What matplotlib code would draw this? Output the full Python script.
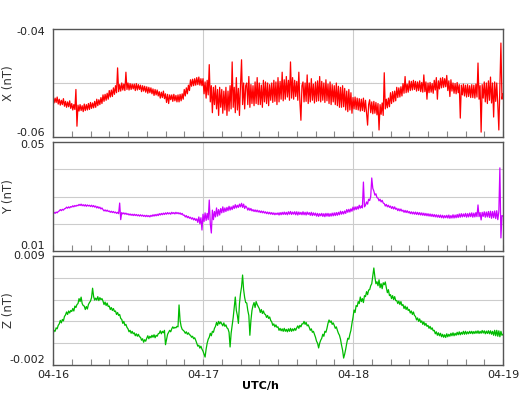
import numpy as np
import matplotlib
matplotlib.use("Agg")
import matplotlib.pyplot as plt
import matplotlib.transforms as mtransforms

X_SCALE = 1e-4   # X values stored in units of 1e-4 nT
Y_SCALE = 1e-4   # Y values stored in units of 1e-4 nT
Z_SCALE = 1e-5   # Z values stored in units of 1e-5 nT
SAMPLES_PER_HOUR = 6

x_vals = [
    -525, -537, -528, -536, -526, -539,
    -530, -541, -532, -540, -529, -543,
    -534, -545, -535, -544, -533, -547,
    -538, -550, -540, -549, -512, -580,
    -541, -552, -540, -551, -542, -553,
    -539, -551, -540, -550, -538, -549,
    -536, -547, -537, -546, -534, -545,
    -530, -542, -531, -540, -527, -538,
    -522, -534, -521, -532, -519, -530,
    -514, -526, -513, -525, -509, -521,
    -505, -518, -472, -516, -503, -515,
    -500, -513, -502, -514, -480, -512,
    -500, -513, -501, -512, -502, -511,
    -502, -514, -501, -513, -503, -512,
    -504, -516, -505, -515, -506, -517,
    -507, -519, -508, -518, -509, -520,
    -511, -523, -512, -522, -513, -524,
    -516, -528, -517, -527, -515, -529,
    -520, -536, -521, -538, -522, -531,
    -522, -534, -521, -533, -523, -535,
    -522, -535, -521, -533, -520, -530,
    -512, -524, -509, -520, -504, -514,
    -494, -506, -493, -505, -492, -504,
    -490, -503, -489, -504, -492, -505,
    -492, -520, -498, -528, -495, -522,
    -466, -535, -505, -555, -508, -540,
    -505, -548, -512, -560, -508, -545,
    -512, -556, -515, -550, -508, -560,
    -515, -552, -505, -548, -461, -545,
    -508, -555, -490, -550, -510, -560,
    -505, -457, -540, -500, -548, -505,
    -500, -540, -488, -545, -503, -538,
    -505, -542, -498, -538, -490, -540,
    -500, -540, -504, -545, -495, -535,
    -498, -538, -500, -542, -503, -532,
    -500, -536, -495, -534, -498, -540,
    -490, -535, -497, -530, -480, -533,
    -494, -530, -488, -526, -495, -532,
    -461, -528, -490, -530, -495, -525,
    -497, -532, -480, -535, -569, -505,
    -498, -535, -500, -534, -485, -538,
    -500, -535, -492, -532, -502, -537,
    -498, -534, -496, -533, -488, -535,
    -497, -532, -500, -536, -494, -533,
    -502, -538, -498, -540, -503, -535,
    -505, -540, -500, -542, -506, -545,
    -508, -545, -505, -544, -510, -550,
    -515, -553, -512, -550, -518, -556,
    -527, -548, -526, -549, -528, -550,
    -529, -552, -530, -551, -528, -553,
    -532, -554, -578, -540, -531, -555,
    -535, -557, -534, -556, -536, -559,
    -538, -587, -540, -558, -537, -560,
    -481, -548, -530, -546, -528, -544,
    -518, -538, -516, -535, -515, -533,
    -508, -527, -509, -526, -507, -524,
    -501, -519, -488, -518, -502, -517,
    -496, -514, -497, -513, -495, -512,
    -497, -515, -498, -514, -496, -516,
    -499, -517, -485, -516, -498, -530,
    -500, -518, -499, -517, -501, -519,
    -495, -513, -490, -530, -496, -511,
    -491, -509, -490, -508, -492, -507,
    -486, -514, -496, -525, -494, -515,
    -500, -519, -501, -520, -499, -518,
    -503, -565, -504, -522, -502, -524,
    -504, -526, -503, -525, -505, -527,
    -503, -527, -504, -528, -502, -526,
    -463, -530, -505, -591, -503, -528,
    -498, -535, -500, -538, -496, -532,
    -489, -537, -500, -563, -498, -534,
    -500, -540, -587, -505, -426, -530,
    -520,
]

y_vals = [
    237, 242, 238, 243, 240, 245,
    247, 252, 248, 253, 250, 255,
    256, 261, 257, 262, 258, 263,
    261, 266, 262, 267, 264, 268,
    266, 271, 267, 272, 266, 270,
    265, 270, 264, 269, 265, 268,
    263, 268, 262, 267, 261, 265,
    258, 263, 257, 261, 254, 258,
    252, 247, 251, 246, 250, 245,
    247, 242, 246, 241, 245, 240,
    243, 238, 242, 237, 276, 215,
    241, 236, 240, 235, 239, 234,
    237, 232, 236, 231, 235, 230,
    235, 230, 234, 229, 233, 228,
    233, 228, 232, 227, 231, 226,
    231, 226, 230, 225, 231, 227,
    233, 228, 234, 229, 235, 230,
    237, 232, 238, 233, 239, 234,
    240, 235, 241, 236, 240, 235,
    242, 237, 241, 236, 242, 237,
    241, 236, 240, 234, 238, 231,
    232, 225, 230, 222, 227, 220,
    224, 217, 222, 214, 220, 212,
    218, 205, 225, 200, 222, 177,
    235, 208, 240, 212, 238, 215,
    287, 200, 166, 250, 215, 245,
    225, 258, 228, 252, 232, 256,
    240, 262, 242, 258, 245, 260,
    248, 264, 250, 262, 252, 266,
    256, 270, 258, 268, 260, 272,
    262, 275, 260, 272, 256, 265,
    260, 250, 258, 249, 256, 247,
    252, 245, 251, 244, 250, 243,
    248, 241, 247, 240, 246, 239,
    244, 237, 243, 236, 242, 235,
    241, 234, 240, 233, 239, 234,
    240, 232, 241, 233, 242, 234,
    243, 234, 242, 233, 244, 235,
    245, 234, 243, 235, 244, 233,
    244, 232, 243, 234, 242, 233,
    244, 233, 242, 232, 243, 234,
    241, 231, 242, 230, 240, 231,
    239, 228, 238, 227, 237, 229,
    238, 227, 237, 226, 238, 228,
    238, 227, 237, 228, 239, 229,
    240, 230, 241, 231, 242, 233,
    246, 235, 245, 236, 247, 238,
    252, 242, 253, 243, 255, 246,
    261, 250, 262, 252, 263, 254,
    268, 257, 266, 258, 353, 262,
    268, 280, 272, 290, 285, 300,
    368, 330, 320, 305, 310, 296,
    294, 284, 290, 280, 286, 276,
    274, 265, 271, 262, 268, 260,
    265, 256, 263, 254, 262, 253,
    257, 248, 255, 247, 254, 246,
    250, 242, 249, 241, 248, 240,
    245, 237, 244, 236, 243, 235,
    243, 234, 242, 233, 241, 232,
    240, 231, 239, 230, 238, 229,
    237, 228, 236, 227, 235, 226,
    234, 225, 233, 224, 232, 223,
    232, 222, 231, 221, 230, 222,
    231, 221, 232, 220, 230, 221,
    233, 221, 232, 222, 234, 223,
    236, 224, 237, 225, 236, 226,
    238, 224, 237, 225, 239, 226,
    240, 224, 239, 225, 241, 226,
    269, 226, 241, 214, 242, 227,
    244, 224, 243, 225, 245, 223,
    246, 220, 245, 222, 247, 219,
    248, 215, 244, 405, 148, 230,
    228,
]

z_vals = [
    110, 150, 140, 175, 165, 200,
    215, 250, 225, 260, 245, 290,
    305, 335, 310, 345, 325, 350,
    340, 370, 345, 395, 380, 410,
    420, 470, 440, 485, 420, 400,
    395, 360, 390, 365, 410, 430,
    445, 480, 575, 490, 455, 475,
    455, 490, 450, 480, 460, 470,
    445, 410, 435, 400, 425, 390,
    395, 360, 380, 350, 370, 340,
    345, 310, 330, 300, 310, 270,
    260, 220, 240, 200, 210, 180,
    165, 135, 150, 120, 140, 115,
    125, 95, 115, 90, 110, 85,
    80, 50, 65, 30, 55, 40,
    70, 95, 65, 90, 75, 100,
    80, 105, 75, 100, 90, 115,
    120, 145, 115, 140, 125, 150,
    5, 60, 110, 130, 150, 135,
    165, 185, 170, 180, 175, 190,
    185, 406, 250, 190, 160, 150,
    140, 120, 135, 110, 125, 105,
    100, 80, 90, 65, 75, 50,
    20, -10, 0, -30, -10, -40,
    -60, -90, -120, -40, 20, 60,
    80, 120, 95, 140, 130, 170,
    190, 230, 200, 240, 215, 235,
    215, 195, 225, 190, 205, 175,
    165, 130, -18, 120, 200, 280,
    380, 486, 350, 300, 220, 420,
    520, 587, 708, 560, 480, 430,
    426, 350, 300, 100, 250, 350,
    400, 430, 380, 440, 410, 390,
    370, 330, 360, 320, 345, 315,
    310, 280, 300, 270, 285, 250,
    235, 200, 215, 185, 205, 180,
    185, 150, 170, 145, 165, 140,
    170, 140, 160, 135, 165, 140,
    170, 140, 165, 145, 170, 150,
    175, 195, 170, 200, 185, 215,
    215, 240, 210, 230, 195, 205,
    180, 150, 165, 130, 140, 110,
    80, 40, 20, -28, 20, 50,
    70, 110, 90, 140, 130, 170,
    220, 254, 230, 245, 210, 225,
    200, 170, 185, 150, 120, 100,
    60, 0, -50, -130, -90, -40,
    20, 70, 60, 110, 150, 220,
    280, 355, 330, 400, 390, 440,
    420, 486, 440, 470, 430, 500,
    490, 540, 510, 557, 560, 600,
    620, 700, 779, 690, 620, 640,
    600, 660, 580, 620, 570, 630,
    610, 638, 580, 530, 560, 500,
    510, 470, 500, 460, 490, 450,
    450, 420, 445, 410, 440, 400,
    410, 370, 395, 360, 385, 350,
    360, 325, 345, 310, 335, 300,
    290, 255, 275, 240, 265, 230,
    245, 210, 235, 200, 220, 190,
    200, 170, 190, 160, 175, 145,
    150, 115, 135, 100, 125, 95,
    120, 85, 110, 80, 105, 78,
    115, 85, 110, 90, 120, 95,
    125, 95, 120, 100, 130, 105,
    135, 105, 130, 110, 140, 110,
    140, 112, 135, 115, 140, 118,
    140, 115, 138, 118, 142, 120,
    145, 118, 140, 120, 148, 122,
    145, 115, 142, 118, 146, 115,
    145, 110, 140, 100, 150, 95,
    150, 90, 145, 85, 140, 100,
    110,
]

day_labels = ["04-16", "04-17", "04-18", "04-19"]
panel_labels = ["X (nT)", "Y (nT)", "Z (nT)"]
panel_limits = [(-0.06, -0.04), (0.01, 0.05), (-0.002, 0.009)]
panel_ticklabels = [("-0.06", "-0.04"), ("0.01", "0.05"), ("-0.002", "0.009")]
panel_grid_div = [2, 4, 5]
colors = ["#ff0000", "#cc00ff", "#00bb00"]

series = [np.array(x_vals) * X_SCALE,
          np.array(y_vals) * Y_SCALE,
          np.array(z_vals) * Z_SCALE]

plt.rcParams['font.family'] = ['DejaVu Sans']
fig = plt.figure(figsize=(5.20, 3.94), dpi=100)

W, H = 520.0, 394.0
left, right = 53 / W, 503 / W
boxes = [(29, 137), (142, 251), (256, 365)]
# vertical offsets (pixels, positive = up) of the end labels
top_shift = [-3, -3, 0]
bot_shift = [4, 5, 5]

for i, (top, bot) in enumerate(boxes):
    ax = fig.add_axes([left, 1 - bot / H, right - left, (bot - top) / H])
    vals = series[i]
    t = np.arange(len(vals)) / SAMPLES_PER_HOUR
    ax.plot(t, vals, color=colors[i], lw=0.9)
    lo, hi = panel_limits[i]
    ax.set_xlim(0, 72)
    ax.set_ylim(lo, hi)
    ax.set_yticks([])
    ax.set_yticks(np.linspace(lo, hi, panel_grid_div[i] + 1)[1:-1], minor=True)
    ax.tick_params(axis='y', which='both', length=0, labelleft=False)
    trans = mtransforms.blended_transform_factory(ax.transAxes, ax.transData)
    for val, lab, sh in ((lo, panel_ticklabels[i][0], bot_shift[i]),
                         (hi, panel_ticklabels[i][1], top_shift[i])):
        off = mtransforms.ScaledTranslation(0, sh / 100.0, fig.dpi_scale_trans)
        ax.text(-8 / 450.0, val, lab, transform=trans + off, ha='right',
                va='center', fontsize=8, color='#222222')
    ax.set_xticks([0, 24, 48, 72])
    ax.set_xticks(np.arange(0, 73, 3), minor=True)
    ax.tick_params(axis='x', which='both', direction='in', length=4,
                   color='#888888', width=0.8)
    if i == 2:
        ax.set_xticklabels(day_labels, fontsize=8, color='#222222')
    else:
        ax.set_xticklabels([])
    ax.grid(which='major', axis='x', color='#cccccc', lw=0.8)
    ax.grid(which='minor', axis='y', color='#cccccc', lw=0.8)
    ax.set_axisbelow(True)
    for s in ax.spines.values():
        s.set_color('#555555')
        s.set_linewidth(1.0)
    ax.set_ylabel(panel_labels[i], fontsize=8.5, color='#333333')
    ax.yaxis.set_label_coords(-0.085, 0.5)

fig.text(260 / W, 1 - 386 / H, "UTC/h", ha='center', va='center',
         fontsize=8, fontweight='bold')

fig.savefig("out.png", dpi=100)
